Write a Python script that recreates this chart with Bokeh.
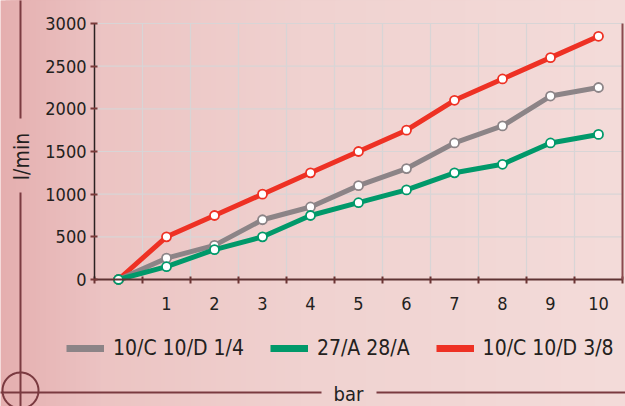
import numpy as np
from bokeh.plotting import figure
from bokeh.models import (Range1d, FixedTicker, Legend, LegendItem, Label, Arrow,
                          PolyAnnotation, BoxAnnotation)
from bokeh.embed import file_html
from bokeh.resources import INLINE

# ---------------- data ----------------
pressure_bar = [0, 1, 2, 3, 4, 5, 6, 7, 8, 9, 10]
flow_10c_10d_14 = [0, 250, 400, 700, 850, 1100, 1300, 1600, 1800, 2150, 2250]
flow_27a_28a = [0, 150, 350, 500, 750, 900, 1050, 1250, 1350, 1600, 1700]
flow_10c_10d_38 = [0, 500, 750, 1000, 1250, 1500, 1750, 2100, 2350, 2600, 2850]
series_names = ["10/C 10/D 1/4", "27/A 28/A", "10/C 10/D 3/8"]
series_colors = ["#8c8487", "#00996a", "#ee3124"]
x_tick_values = [1, 2, 3, 4, 5, 6, 7, 8, 9, 10]
y_tick_values = [0, 500, 1000, 1500, 2000, 2500, 3000]
x_axis_title = "bar"
y_axis_title = "l/min"

FONT = "'DejaVu Sans Condensed', 'Liberation Sans Narrow', 'DejaVu Sans', sans-serif"
TXT = "#231f20"
BROWN = "#7a3a40"

W, H = 625, 406
# pixel placement of the data area inside the canvas
X_LEFT_PX, X_RIGHT_PX = 94, 622      # x = -0.5 .. 10.5
Y_TOP_PX, Y_BOTTOM_PX = 23, 279      # y = 3000 .. 0
XMIN, XMAX = -0.5, 10.5
YMIN, YMAX = 0, 3000
ux = (XMAX - XMIN) / (X_RIGHT_PX - X_LEFT_PX)
uy = (YMAX - YMIN) / (Y_BOTTOM_PX - Y_TOP_PX)

def dx(px):
    return XMIN + (px - X_LEFT_PX) * ux
def dy(py):
    return YMIN + (Y_BOTTOM_PX - py) * uy

p = figure(width=W, height=H, x_range=Range1d(dx(0), dx(W)), y_range=Range1d(dy(H), dy(0)),
           output_backend="svg", toolbar_location=None,
           min_border=0, min_border_left=0, min_border_right=0, min_border_top=0, min_border_bottom=0,
           background_fill_color="#f1d6d4", border_fill_color="#f1d6d4",
           outline_line_color=None)

# background gradient (decoration)
stops_x = [0, 100, 300, 625]
stops_c = [(229, 175, 175), (236, 196, 195), (240, 210, 208), (244, 220, 218)]
for px in range(0, W, 5):
    c = [int(np.interp(px, stops_x, [s[i] for s in stops_c])) for i in range(3)]
    p.add_layout(BoxAnnotation(left=dx(px), right=dx(W + 50), top=dy(-50), bottom=dy(H + 50),
                               fill_color="#%02x%02x%02x" % tuple(c), fill_alpha=1,
                               line_color=None, level="image"))

# grid lines (bounded to the data area)
p.xgrid.visible = False
p.ygrid.visible = False
GRID = "#d8d5d6"
half_steps = [v + 0.5 for v in pressure_bar[:-1]]
p.segment(x0=half_steps, y0=[YMIN] * len(half_steps), x1=half_steps, y1=[YMAX] * len(half_steps),
          line_color=GRID, line_width=1.2)
p.segment(x0=[XMIN] * len(y_tick_values[1:]), y0=y_tick_values[1:],
          x1=[XMAX] * len(y_tick_values[1:]), y1=y_tick_values[1:],
          line_color=GRID, line_width=1.2)

# axes, placed at the data origin
xt = FixedTicker(ticks=x_tick_values, minor_ticks=[v - 0.5 for v in pressure_bar] + [XMAX])
yt = FixedTicker(ticks=y_tick_values, minor_ticks=[])
p.xaxis.ticker = xt
p.yaxis.ticker = yt
p.xaxis.fixed_location = YMIN
p.yaxis.fixed_location = XMIN
p.xaxis.bounds = (XMIN, XMAX)
p.yaxis.bounds = (YMIN, YMAX)

p.xaxis.major_tick_in = 0
p.xaxis.major_tick_out = 0
p.xaxis.minor_tick_in = 3
p.xaxis.minor_tick_out = 4
p.xaxis.minor_tick_line_color = "#6b3434"
p.xaxis.minor_tick_line_width = 2
p.xaxis.axis_line_color = "#5e3333"
p.xaxis.axis_line_width = 2
p.xaxis.major_label_standoff = 13

p.yaxis.major_tick_in = 3
p.yaxis.major_tick_out = 4
p.yaxis.major_tick_line_color = "#7a3a3a"
p.yaxis.major_tick_line_width = 2
p.yaxis.minor_tick_out = 0
p.yaxis.minor_tick_in = 0
p.yaxis.axis_line_color = "#2b2222"
p.yaxis.axis_line_width = 1.5
p.yaxis.major_label_standoff = 4

for ax in (p.xaxis, p.yaxis):
    ax.major_label_text_font = FONT
    ax.major_label_text_font_size = "18px"
    ax.major_label_text_color = TXT

# right edge line
p.add_layout(Arrow(end=None, x_start=XMAX, y_start=YMIN, x_end=XMAX, y_end=YMAX,
                   line_color="#8a4a4e", line_width=2))

# series
series = [flow_10c_10d_14, flow_27a_28a, flow_10c_10d_38]
for idx in (2, 0, 1):
    p.line(pressure_bar, series[idx], line_color=series_colors[idx], line_width=5, line_join="round")
    p.scatter(pressure_bar, series[idx], size=9, fill_color="white",
              line_color=series_colors[idx], line_width=1.8)

# legend (swatch renderers that draw nothing in the plot)
items = []
for name, col in zip(series_names, series_colors):
    lr = p.line(x=[np.nan], y=[np.nan], line_color=col, line_width=7)
    items.append(LegendItem(label=name, renderers=[lr]))
legend = Legend(items=items, orientation="horizontal", location=(66, 46),
                glyph_width=38, glyph_height=20, label_standoff=9, spacing=26,
                padding=0, margin=0, background_fill_alpha=0, border_line_alpha=0,
                label_text_font=FONT, label_text_font_size="21px", label_text_color=TXT)
p.add_layout(legend)

# decorations: side and bottom lines, crosshair circle, titles
def seg(x0, y0, x1, y1):
    p.add_layout(Arrow(end=None, x_start=x0, y_start=y0, x_end=x1, y_end=y1,
                       line_color=BROWN, line_width=2))

seg(dx(20), dy(-20), dx(20), dy(118))
seg(dx(20), dy(192), dx(20), dy(430))
seg(dx(-5), dy(392), dx(321), dy(392))
seg(dx(376), dy(392), dx(640), dy(392))

t = np.linspace(0, 2 * np.pi, 90)
p.add_layout(PolyAnnotation(xs=list(dx(20 + 18 * np.cos(t))), ys=list(dy(390 + 18 * np.sin(t))),
                            fill_alpha=0, line_color=BROWN, line_alpha=1, line_width=2))

p.add_layout(Label(x=dx(21), y=dy(156), text=y_axis_title, angle=np.pi / 2,
                   text_align="center", text_baseline="middle", text_font=FONT,
                   text_font_size="21px", text_color=TXT))
p.add_layout(Label(x=dx(348), y=dy(393), text=x_axis_title,
                   text_align="center", text_baseline="middle", text_font=FONT,
                   text_font_size="20px", text_color=TXT))

open("out.html", "w").write(file_html(p, INLINE))
